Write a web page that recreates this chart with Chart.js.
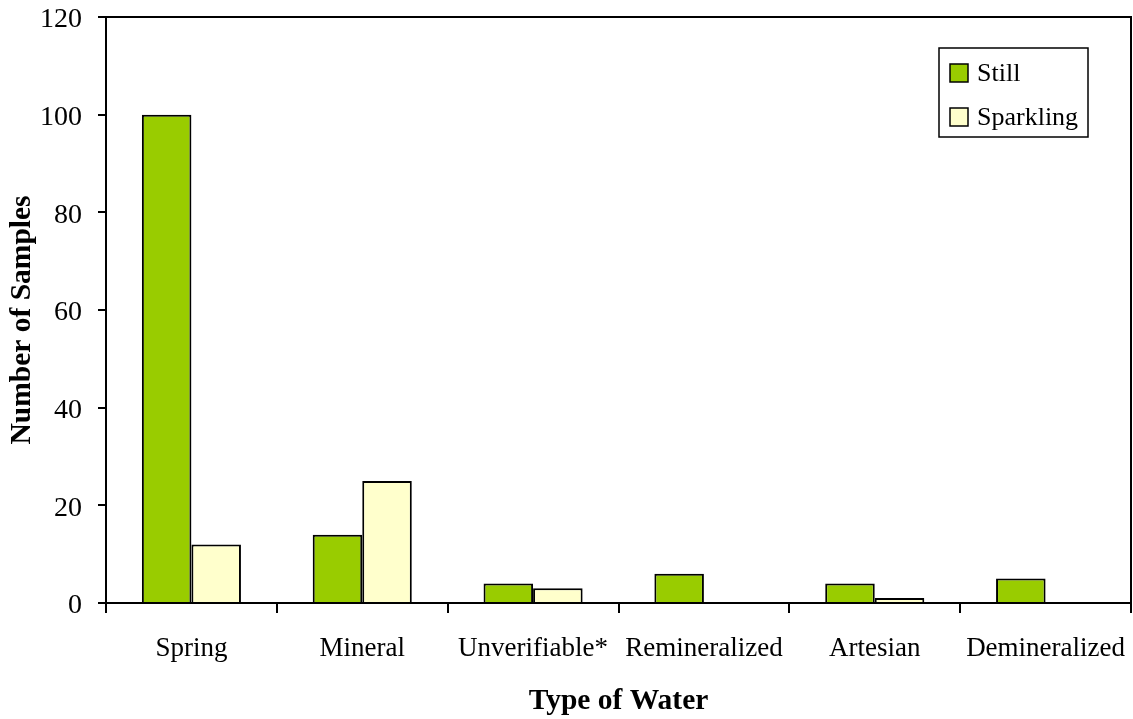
<!DOCTYPE html>
<html>
<head>
<meta charset="utf-8">
<script src="https://cdn.jsdelivr.net/npm/chart.js@4/dist/chart.umd.min.js"></script>
<style>
  html, body { margin: 0; padding: 0; background: #fff; }
  #wrap { width: 1133px; height: 719px; position: relative; }
</style>
</head>
<body>
<div id="wrap"><canvas id="c" width="1133" height="719"></canvas></div>
<script>
const categories = ['Spring', 'Mineral', 'Unverifiable*', 'Remineralized', 'Artesian', 'Demineralized'];
const stillValues = [100, 14, 4, 6, 4, 5];
const sparklingValues = [12, 25, 3, 0, 1, 0];
const yTicks = [0, 20, 40, 60, 80, 100, 120];
const yTitle = 'Number of Samples';

const serif = "'Liberation Serif', 'Times New Roman', serif";

// Frame on the top and right of the plot area
const frame = {
  id: 'frame',
  afterDraw(chart) {
    const { ctx, chartArea: a } = chart;
    ctx.save();
    ctx.strokeStyle = '#000';
    ctx.lineWidth = 2;
    ctx.beginPath();
    ctx.moveTo(a.left - 8, a.top);
    ctx.lineTo(a.right, a.top);
    ctx.lineTo(a.right, a.bottom);
    ctx.stroke();
    ctx.restore();
  }
};

// Rotated y-axis title, sitting slightly below the plot's middle
const yAxisTitle = {
  id: 'yAxisTitle',
  afterDraw(chart) {
    const { ctx, chartArea: a } = chart;
    ctx.save();
    ctx.translate(22, (a.top + a.bottom) / 2 + 10);
    ctx.rotate(-Math.PI / 2);
    ctx.font = 'bold 29.5px ' + serif;
    ctx.fillStyle = '#000';
    ctx.textAlign = 'center';
    ctx.textBaseline = 'middle';
    ctx.fillText(yTitle, 0, 0);
    ctx.restore();
  }
};

// Boxed legend inside the plot area
const boxLegend = {
  id: 'boxLegend',
  afterDraw(chart) {
    const { ctx } = chart;
    const x = 939, y = 48, w = 149, h = 89;
    ctx.save();
    ctx.fillStyle = '#fff';
    ctx.fillRect(x, y, w, h);
    ctx.strokeStyle = '#000';
    ctx.lineWidth = 1.5;
    ctx.strokeRect(x, y, w, h);
    ctx.font = '26px ' + serif;
    ctx.textBaseline = 'middle';
    chart.data.datasets.forEach((ds, i) => {
      const cy = y + 25 + i * 44;
      ctx.fillStyle = ds.backgroundColor;
      ctx.fillRect(x + 11, cy - 9, 18, 18);
      ctx.lineWidth = 1.5;
      ctx.strokeRect(x + 11, cy - 9, 18, 18);
      ctx.fillStyle = '#000';
      ctx.fillText(ds.label, x + 38, cy + 1);
    });
    ctx.restore();
  }
};

new Chart(document.getElementById('c'), {
  type: 'bar',
  data: {
    labels: categories,
    datasets: [
      { label: 'Still', data: stillValues, backgroundColor: '#99CC00', borderColor: '#000', borderWidth: 2 },
      { label: 'Sparkling', data: sparklingValues, backgroundColor: '#FFFFCC', borderColor: '#000', borderWidth: 2 }
    ]
  },
  options: {
    responsive: false,
    animation: false,
    devicePixelRatio: 1,
    layout: { padding: { top: 17, right: 2, left: 0, bottom: 0 } },
    datasets: { bar: { categoryPercentage: 0.58, barPercentage: 1.0 } },
    plugins: { legend: { display: false }, tooltip: { enabled: false } },
    scales: {
      x: {
        grid: { offset: true, drawOnChartArea: false, drawTicks: true, tickLength: 10, color: '#000', lineWidth: 2 },
        border: { color: '#000', width: 2 },
        ticks: { color: '#000', font: { family: serif, size: 27 }, padding: 20, maxRotation: 0, autoSkip: false },
        title: { display: true, text: 'Type of Water', color: '#000', font: { family: serif, size: 29.5, weight: 'bold' }, padding: { top: 0, bottom: 0 } },
        afterFit(scale) { scale.height = 116; scale.paddingLeft = 0; scale.paddingRight = 0; }
      },
      y: {
        min: 0, max: 120,
        afterBuildTicks(scale) { scale.ticks = yTicks.map(v => ({ value: v })); },
        grid: { drawOnChartArea: false, drawTicks: true, tickLength: 8, color: '#000', lineWidth: 2 },
        border: { color: '#000', width: 2 },
        ticks: { color: '#000', font: { family: serif, size: 28 }, padding: 16, labelOffset: 3 },
        title: { display: false },
        afterFit(scale) { scale.width = 106; scale.paddingTop = 0; scale.paddingBottom = 0; }
      }
    }
  },
  plugins: [frame, yAxisTitle, boxLegend]
});
</script>
</body>
</html>
